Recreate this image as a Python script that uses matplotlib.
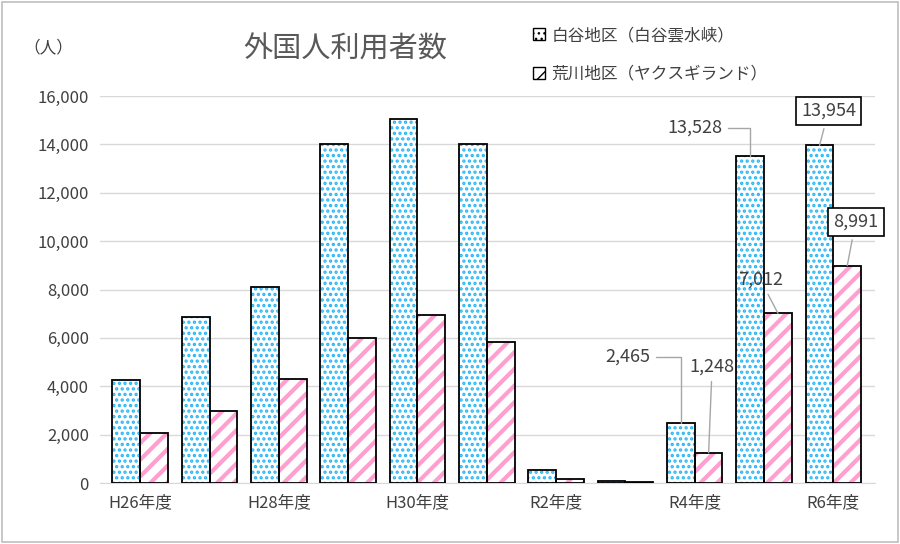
import matplotlib
matplotlib.use("Agg")
import matplotlib.pyplot as plt
from matplotlib.patches import Rectangle
import numpy as np

plt.rcParams['font.family'] = ['Noto Sans CJK JP']
plt.rcParams['hatch.linewidth'] = 2.5

categories = ["H26年度","H27年度","H28年度","H29年度","H30年度","R1年度","R2年度","R3年度","R4年度","R5年度","R6年度"]
shirotani = [4250, 6850, 8100, 14000, 15050, 14030, 550, 100, 2465, 13528, 13954]
arakawa = [2080, 2980, 4300, 5980, 6930, 5820, 150, 30, 1248, 7012, 8991]
series_names = ["白谷地区（白谷雲水峡）", "荒川地区（ヤクスギランド）"]

fig = plt.figure(figsize=(9, 5.44), dpi=100)
fig.patches.append(Rectangle((0.002, 0.003), 0.996, 0.994, transform=fig.transFigure,
                             fill=False, edgecolor='#bfbfbf', lw=1.2))
ax = fig.add_axes([100/900, 61/544, 775/900, 387/544])
x = np.arange(len(categories))
w = 0.4
blue = '#29b6f6'
pink = '#ff9ecf'
# hatched fills
plt.rcParams['hatch.linewidth'] = 1.6
ax.bar(x - w/2, shirotani, w, facecolor='white', edgecolor=blue, hatch='...', lw=0, zorder=2)
plt.rcParams['hatch.linewidth'] = 3.0
ax.bar(x + w/2, arakawa, w, facecolor='white', edgecolor=pink, hatch='//', lw=0, zorder=2)
# outlines
b1 = ax.bar(x - w/2, shirotani, w, fill=False, edgecolor='black', lw=1.3, zorder=3)
b2 = ax.bar(x + w/2, arakawa, w, fill=False, edgecolor='black', lw=1.3, zorder=3)

ax.set_xlim(-0.58, 10.6)
ax.set_ylim(0, 16000)
ax.set_yticks(range(0, 16001, 2000))
ax.set_yticklabels([f"{v:,}" for v in range(0, 16001, 2000)], fontsize=12, color='#404040')
ax.set_xticks(x[::2])
ax.set_xticklabels(categories[::2], fontsize=12, color='#404040')
ax.tick_params(length=0, pad=8)
ax.grid(axis='y', color='#d9d9d9', lw=1, zorder=0)
ax.set_axisbelow(True)
for s in ['top', 'right', 'left']:
    ax.spines[s].set_visible(False)
ax.spines['bottom'].set_color('#d9d9d9')

fig.text(345/900, 1 - 50/544, "外国人利用者数", fontsize=21, color='#595959', ha='center', va='center')
fig.text(48/900, 1 - 48/544, "（人）", fontsize=12, color='#404040', ha='center', va='center')

# legend
from matplotlib.patches import Patch
plt.rcParams['hatch.linewidth'] = 1.0
h1 = Patch(facecolor='white', edgecolor='black', hatch='...')
h2 = Patch(facecolor='white', edgecolor='black', hatch='//')
leg = fig.legend([h1, h2], series_names, loc='upper left', bbox_to_anchor=(518/900, 1 - 12/544),
                 frameon=False, fontsize=12, handlelength=0.7, handleheight=0.7,
                 labelspacing=1.3, handletextpad=0.4, labelcolor='#404040')

gray = '#a6a6a6'
def ann(txt, xy, xyt, box=False, cs="arc3"):
    kw = dict(fontsize=13, color='#404040', ha='center', va='center', zorder=5,
              arrowprops=dict(arrowstyle='-', color=gray, lw=1, shrinkA=2, shrinkB=0, connectionstyle=cs))
    if box:
        kw['bbox'] = dict(boxstyle='square,pad=0.3', facecolor='white', edgecolor='black', lw=1.2)
    ax.annotate(txt, xy=xy, xytext=xyt, **kw)

ann(f"{shirotani[9]:,}", (9 - w/2, shirotani[9]), (8.0, 14677), cs="angle,angleA=0,angleB=90,rad=0")
ann(f"{shirotani[8]:,}", (8 - w/2, shirotani[8]), (7.03, 5209), cs="angle,angleA=0,angleB=90,rad=0")
ann(f"{arakawa[8]:,}", (8 + w/2, arakawa[8]), (8.25, 4796))
ann(f"{arakawa[9]:,}", (9 + w/2, arakawa[9]), (8.95, 8393))
ann(f"{shirotani[10]:,}", (10 - w/2, shirotani[10]), (9.93, 15380), box=True)
ann(f"{arakawa[10]:,}", (10 + w/2, arakawa[10]), (10.32, 10790), box=True)

fig.savefig("out.png", dpi=100)
